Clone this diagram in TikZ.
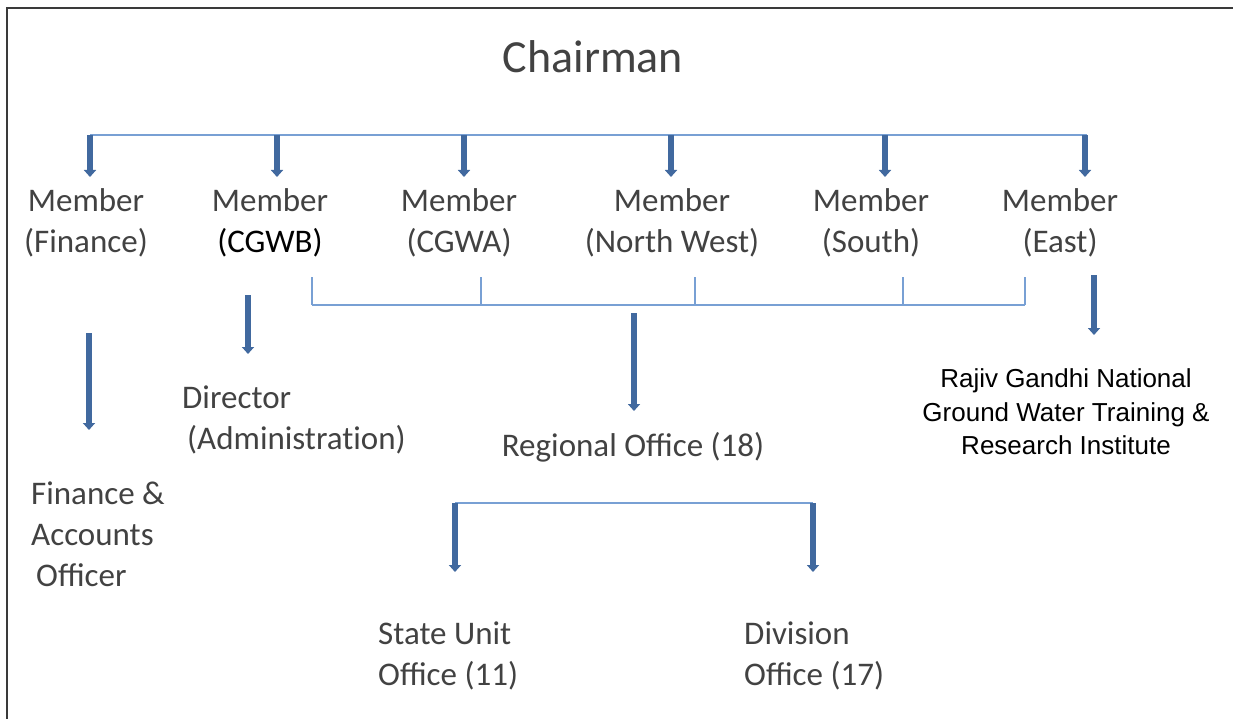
\documentclass[tikz,border=0pt]{standalone}
\usepackage{fontspec}
\setmainfont{Carlito}
\newfontfamily\arialfont{Liberation Sans}
\usetikzlibrary{arrows.meta}
\definecolor{thickblue}{HTML}{41699F}
\definecolor{thinblue}{HTML}{78A0D4}
\definecolor{txtgray}{HTML}{424242}
\definecolor{framegray}{HTML}{3A3A3A}
\tikzset{
  lbl/.style={inner sep=0pt, text=txtgray, font=\fontsize{33}{41}\selectfont, align=center},
  lbll/.style={lbl, align=left},
  bus/.style={draw=thinblue, line width=2pt},
  arr/.style={draw=thickblue, line width=5.5pt, -{Triangle[width=12pt,length=7pt]}},
}
\begin{document}
\begin{tikzpicture}[x=1pt,y=-1pt]
\useasboundingbox (0,0) rectangle (1233,719);
\fill[white] (0,0) rectangle (1233,719);
% frame
\draw[framegray, line width=2pt] (6.5,719) -- (6.5,8) -- (1233,8);

% nodes
\node[lbl, font=\fontsize{46}{50}\selectfont] (chair) at (593,57) {Chairman};
\node[lbl] (m1) at (86,223) {Member\\(Finance)};
\node[lbl] (m2) at (270,223) {Member\\{\color{black}(CGWB)}};
\node[lbl] (m3) at (459,223) {Member\\(CGWA)};
\node[lbl] (m4) at (672,223) {Member\\(North West)};
\node[lbl] (m5) at (871,223) {Member\\(South)};
\node[lbl] (m6) at (1060,223) {Member\\(East)};

\node[lbll, anchor=west] (fin) at (31,534) {Finance \&\\Accounts\\\hspace{5pt}Officer};
\node[lbll, anchor=west] (dir) at (182,420) {Director\\\hspace{5pt}(Administrat\kern0pt ion)};
\node[lbl] (reg) at (633,447) {Regional Office (18)};
\node[lbl, text=black, font=\arialfont\fontsize{26}{33.5}\selectfont] (rgi) at (1066,412) {Rajiv Gandhi National\\Ground Water Training \&\\Research Institute};
\node[lbll, anchor=west] (suo) at (378,656) {State Unit\\Office (11)};
\node[lbll, anchor=west] (div) at (744,656) {Division\\Office (17)};

% top bus
\coordinate (tL) at (90,135);
\coordinate (tR) at (1087,135);
\draw[bus] (tL) -- (tR);
\foreach \x [count=\i] in {90,277,464,671,885,1085}{
  \coordinate (ts\i) at (\x,135);
  \coordinate (te\i) at (\x,177);
  \draw[arr] (ts\i) -- (te\i);
}

% lower bus
\foreach \x [count=\i] in {312,481,695,903,1025}{
  \coordinate (lu\i) at (\x,277);
  \coordinate (ld\i) at (\x,305);
  \draw[bus] (lu\i) -- (ld\i);
}
\draw[bus] (ld1) -- (ld5);
\coordinate (rs) at (634,313);
\coordinate (re) at (634,411);
\draw[arr] (rs) -- (re);

% finance & director & east
\coordinate (fs) at (89,333);
\coordinate (fe) at (89,430);
\draw[arr] (fs) -- (fe);
\coordinate (ds) at (248,295);
\coordinate (de) at (248,354);
\draw[arr] (ds) -- (de);
\coordinate (es) at (1094,275);
\coordinate (ee) at (1094,335);
\draw[arr] (es) -- (ee);

% regional split
\coordinate (sL) at (455,503);
\coordinate (sR) at (813,503);
\coordinate (sLe) at (455,572);
\coordinate (sRe) at (813,572);
\draw[bus] (sL) -- (sR);
\draw[arr] (sL) -- (sLe);
\draw[arr] (sR) -- (sRe);
\end{tikzpicture}
\end{document}
